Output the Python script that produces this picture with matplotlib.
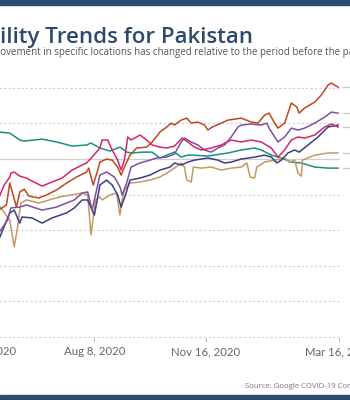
import numpy as np
import matplotlib
matplotlib.use("Agg")
import matplotlib.pyplot as plt
from matplotlib.patches import Rectangle

# days since 2020-05-14, values in % change from baseline
base = np.datetime64('2020-05-14')

teal_d = [0, 10, 19, 23, 39, 52, 66, 79, 83, 91, 100, 109, 115, 120, 129, 138, 145, 151, 158, 164, 170, 174,
          188, 206, 218, 230, 236, 245, 254, 263, 272, 284, 296, 305]
teal_v = [15.2, 14.6, 10.7, 10.1, 11.2, 9.6, 7.3, 7.9, 9.0, 6.2, 4.5, 6.7, 3.9, 3.4, 3.9, 3.9, 0.6, 2.2, 3.9, 1.1,
          2.2, 2.2, 1.7, 3.4, 5.1, 6.2, 5.1, 2.2, 0.6, -1.7, -2.2, -4.5, -5.1, -5.1]

red_d = [0, 7, 10, 13, 16, 19, 23, 27, 36, 43, 52, 61, 70, 79, 81, 85, 89, 91, 97, 102, 107, 110, 113, 118, 124,
         133, 138, 145, 151, 155, 158, 164, 169, 173, 179, 185, 188, 192, 200, 206, 218, 227, 233, 239, 243, 248,
         251, 257, 263, 268, 270, 275, 284, 290, 296, 299, 305]
red_v = [-28.7, -25.8, -13.5, -20.2, -27.0, -18.5, -16.9, -20.8, -21.9, -20.2, -17.4, -13.5, -10.1, -7.3, -5.1,
         -14.6, -6.2, -1.7, 0.0, -0.6, -4.5, -9.0, -4.5, 2.2, 6.2, 6.7, 9.6, 15.2, 18.0, 20.2, 19.1, 21.9, 23.0,
         20.2, 20.8, 19.1, 16.3, 18.0, 20.2, 21.9, 23.0, 20.8, 20.2, 24.7, 25.8, 20.2, 17.4, 20.2, 31.5, 29.2,
         25.8, 28.7, 32.0, 36.0, 41.6, 42.7, 40.4]

pink_d = [0, 5, 10, 11, 14, 19, 25, 30, 39, 48, 57, 66, 75, 79, 84, 91, 93, 98, 102, 107, 110, 113, 116, 119, 127,
          133, 138, 145, 151, 158, 165, 170, 176, 182, 191, 200, 209, 218, 227, 236, 245, 251, 257, 263, 269, 275,
          284, 293, 299, 305]
pink_v = [-21.9, -14.6, -10.1, -7.9, -7.3, -9.6, -10.7, -12.4, -15.2, -12.9, -10.7, -6.2, -3.4, -2.2, 1.1, 6.2,
          10.7, 10.7, 5.1, -0.6, -6.2, -0.6, 12.4, 10.7, 13.5, 10.7, 7.9, 6.7, 6.2, 7.3, 11.8, 9.6, 6.7, 5.1, 6.2,
          7.9, 10.7, 9.6, 10.7, 9.6, 6.2, 1.1, 5.1, 10.7, 12.4, 11.8, 13.5, 18.0, 19.7, 18.0]

purple_d = [0, 8, 11, 19, 25, 39, 52, 61, 68, 75, 80, 84, 88, 91, 97, 104, 109, 111, 115, 119, 127, 136, 142, 151,
            158, 164, 167, 173, 179, 185, 191, 197, 203, 209, 215, 218, 227, 236, 241, 243, 248, 251, 257, 263, 269,
            275, 284, 293, 299, 305]
purple_v = [-41.6, -34.3, -27.5, -27.0, -25.8, -28.7, -27.0, -24.7, -23.0, -19.1, -18.5, -28.7, -17.4, -9.0, -7.3,
            -10.1, -15.7, -20.2, -13.5, -4.5, -2.2, -0.6, 0.6, 1.1, 2.8, 9.6, 11.8, 9.6, 7.9, 5.1, 3.9, 6.2, 7.9,
            12.4, 18.0, 19.1, 19.7, 19.1, 20.2, 17.4, 12.4, 9.6, 12.4, 17.4, 16.3, 17.4, 20.2, 23.6, 26.4, 25.8]

navy_d = [0, 10, 14, 19, 21, 30, 39, 48, 61, 68, 75, 80, 86, 91, 97, 102, 107, 110, 114, 118, 127, 136, 145, 154,
          158, 164, 170, 176, 188, 197, 203, 209, 218, 230, 239, 245, 250, 254, 260, 266, 270, 278, 287, 296, 305]
navy_v = [-45.5, -30.3, -28.7, -36.0, -32.6, -33.1, -36.0, -33.1, -30.3, -27.5, -23.0, -23.0, -31.5, -14.6, -11.8,
          -14.6, -20.2, -27.0, -20.2, -11.8, -10.7, -9.0, -6.2, -4.5, -2.2, -3.4, -1.7, -0.6, 0.6, -0.6, -2.2, -1.7,
          0.0, 1.1, 2.2, 1.1, -2.2, -0.6, 3.4, 5.1, 3.9, 7.9, 12.4, 18.0, 19.1]

tan_d = [0, 10, 14, 17, 20, 25, 36, 55, 75, 80, 83, 87, 91, 93, 100, 106, 109, 111, 113, 118, 127, 136, 145, 151,
         158, 164, 167, 169, 173, 175, 182, 191, 200, 209, 218, 223, 226, 230, 232, 239, 248, 257, 261, 266, 269,
         272, 273, 284, 296, 305]
tan_v = [-25.8, -34.3, -49.4, -38.2, -24.7, -23.0, -24.7, -21.3, -19.1, -20.2, -42.7, -23.0, -21.3, -23.0, -20.2,
         -19.1, -31.5, -23.0, -17.4, -13.5, -12.9, -11.8, -10.1, -7.9, -5.1, -2.2, -4.5, -11.8, -12.9, -4.5, -5.1,
         -4.5, -6.2, -5.1, -4.5, -2.2, -10.1, -10.7, -4.5, -1.7, -0.6, 0.6, -1.7, -0.6, -7.9, -9.6, -0.6, 2.2, 3.4,
         3.4]

series = [
    (teal_d, teal_v, '#1b8f80'),
    (tan_d, tan_v, '#c39a60'),
    (navy_d, navy_v, '#3c3f7e'),
    (purple_d, purple_v, '#7d50a4'),
    (pink_d, pink_v, '#d6246c'),
    (red_d, red_v, '#c2461f'),
]

tick_dates = ['2020-04-30', '2020-08-08', '2020-11-16', '2021-03-16']
tick_labels = ['Apr 30, 2020', 'Aug 8, 2020', 'Nov 16, 2020', 'Mar 16, 2021']
yticks = [40, 20, 0, -20, -40, -60, -80, -100]

W, H = 350, 400
fig = plt.figure(figsize=(3.5, 4), dpi=100)
fig.patch.set_facecolor('white')

# dark bars top and bottom
fig.patches.append(Rectangle((0, 1 - 5 / H), 1, 5 / H, transform=fig.transFigure, color='#2c4a6f', zorder=0))
fig.patches.append(Rectangle((0, 0), 1, 5 / H, transform=fig.transFigure, color='#2c4a6f', zorder=0))

ax = fig.add_axes([-100.4 / W, (H - 338) / H, 440.7 / W, 259 / H])
for d, v, c in series:
    dates = base + np.array(d).astype('timedelta64[D]')
    ax.plot(dates, v, color=c, lw=1.1, solid_joinstyle='round')

ax.set_xlim(np.datetime64('2020-02-15'), np.datetime64('2021-03-17'))
ax.set_ylim(-100.6, 45)

for y in yticks:
    if y == 0:
        ax.axhline(y, color='#cfcfcf', lw=0.9, zorder=0)
    else:
        ax.axhline(y, color='#cfcfcf', lw=0.8, ls=(0, (2, 2)), zorder=0)

# leader marks towards the (cut-off) series labels
end_vals = [red_v[-1], purple_v[-1], pink_v[-1], tan_v[-1], teal_v[-1]]
for v in end_vals:
    ax.plot([np.datetime64('2021-03-19'), np.datetime64('2021-03-30')], [v, v],
            color='#c8c8c8', lw=0.9, clip_on=False)

for s in ax.spines.values():
    s.set_visible(False)
ax.set_yticks([])
ax.set_xticks([np.datetime64(t) for t in tick_dates])
ax.set_xticklabels(tick_labels, fontfamily='Lato', fontsize=8.2, color='#666666')
ax.tick_params(axis='x', length=3, color='#bbbbbb', width=0.8, pad=3)

renderer = fig.canvas.get_renderer()


def width_px(s, **kw):
    t = fig.text(0, 0, s, **kw)
    w = t.get_window_extent(renderer).width
    t.remove()
    return w


title_kw = dict(fontfamily='Open Sans', fontsize=16, fontweight='semibold', color='#2d4a6d')
tx = -width_px('Mob', **title_kw) / W
fig.text(tx, 1 - 43 / H, 'Mobility Trends for Pakistan', va='baseline', ha='left', **title_kw)

sub_kw = dict(fontfamily='Open Sans', fontsize=7.0, color='#555555')
sx = -width_px('How m', **sub_kw) / W
fig.text(sx, 1 - 55 / H, 'How movement in specific locations has changed relative to the period before the pandemic',
         va='baseline', ha='left', **sub_kw)

fig.text(245 / W, 1 - 388 / H, 'Source: Google COVID-19 Community Mobility Reports',
         fontfamily='Open Sans', fontsize=5.6, color='#777777', va='baseline', ha='left')

fig.savefig('out.png', dpi=100)
